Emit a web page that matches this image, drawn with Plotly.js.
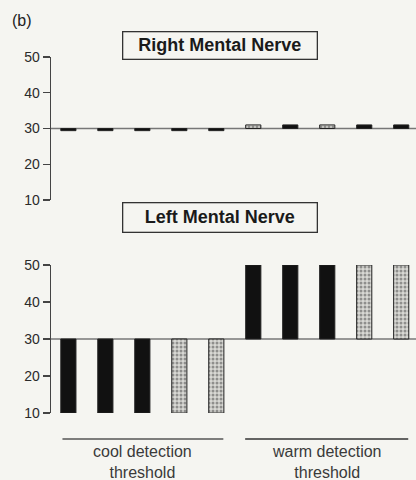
<!DOCTYPE html>
<html>
<head>
<meta charset="utf-8">
<script src="https://cdn.plot.ly/plotly-3.0.1.min.js"></script>
<style>
html,body{margin:0;padding:0;background:#f5f5f1;}
#chart{width:416px;height:480px;}
</style>
</head>
<body>
<div id="chart"></div>
<script>
// ---- data ----
const groups = ['cool detection<br>threshold', 'warm detection<br>threshold'];
const groupCenters = [2, 7];
const baseline = 30;
const yTicks = [10, 20, 30, 40, 50];
const panelTitles = ['Right Mental Nerve', 'Left Mental Nerve'];
const rightCool = [29.4, 29.4, 29.4, 29.4, 29.4];
const rightWarm = [31, 31, 31, 31, 31];
const rightFill = ['solid','solid','solid','solid','solid','dotted','solid','dotted','solid','solid'];
const leftCool = [10, 10, 10, 10, 10];
const leftWarm = [50, 50, 50, 50, 50];
const leftFill = ['solid','solid','solid','dotted','dotted','solid','solid','solid','dotted','dotted'];

// ---- build ----
const FONT = 'Liberation Sans, Arial, Helvetica, sans-serif';
function barTrace(values, fills, xa, ya) {
  return {
    type: 'bar',
    x: values.map((v, i) => i),
    base: values.map(() => baseline),
    y: values.map(v => v - baseline),
    width: 0.41,
    xaxis: xa, yaxis: ya,
    marker: {
      color: fills.map(f => f === 'solid' ? '#111111' : '#d8d8d4'),
      line: {color: '#222', width: 1},
      pattern: {
        shape: fills.map(f => f === 'solid' ? '' : '.'),
        fgcolor: '#3a3a3a',
        size: 4,
        solidity: 0.45,
        fillmode: 'overlay'
      }
    },
    hoverinfo: 'skip',
    showlegend: false,
    cliponaxis: false
  };
}

const rightVals = rightCool.concat(rightWarm);
const leftVals = leftCool.concat(leftWarm);

const data = [
  barTrace(rightVals, rightFill, 'x', 'y'),
  barTrace(leftVals, leftFill, 'x2', 'y2')
];

const W = 416, H = 480;
const xRange = [-0.47, 9.4];
const xDom = [51 / W, 1];
const yaxisCommon = {
  range: [10, 50],
  tickvals: yTicks,
  ticks: 'outside',
  ticklen: 7,
  tickwidth: 1.3,
  tickcolor: '#444',
  showline: true,
  linecolor: '#444',
  linewidth: 1.3,
  showgrid: false,
  zeroline: false,
  tickfont: {family: FONT, size: 14, color: '#2a2a2a'},
  fixedrange: true
};
const xaxisCommon = {range: xRange, domain: xDom, visible: false, fixedrange: true};

const annotations = [
  {text: '(b)', xref: 'paper', yref: 'paper', x: 10 / W, y: 1 - 21 / H, xanchor: 'left', yanchor: 'middle',
   showarrow: false, font: {family: FONT, size: 16, color: '#222'}},
  {text: '<b>' + panelTitles[0] + '</b>', xref: 'paper', yref: 'paper', x: 220 / W, y: 1 - 45 / H,
   xanchor: 'center', yanchor: 'middle', showarrow: false, width: 191, height: 24,
   bordercolor: '#333', borderwidth: 1.3, borderpad: 1, bgcolor: '#f5f5f1',
   font: {family: FONT, size: 18, color: '#1a1a1a'}},
  {text: '<b>' + panelTitles[1] + '</b>', xref: 'paper', yref: 'paper', x: 220 / W, y: 1 - 218 / H,
   xanchor: 'center', yanchor: 'middle', showarrow: false, width: 191, height: 26,
   bordercolor: '#333', borderwidth: 1.3, borderpad: 1, bgcolor: '#f5f5f1',
   font: {family: FONT, size: 18, color: '#1a1a1a'}}
];
groups.forEach((t, g) => {
  annotations.push({text: t, xref: 'x2', yref: 'paper', x: groupCenters[g], y: 1 - 441 / H,
    xanchor: 'center', yanchor: 'top', showarrow: false,
    font: {family: FONT, size: 16, color: '#3a3a3a'}});
});

const layout = {
  width: W, height: H,
  margin: {l: 0, r: 0, t: 0, b: 0},
  paper_bgcolor: '#f5f5f1',
  plot_bgcolor: 'rgba(0,0,0,0)',
  bargap: 0,
  xaxis: Object.assign({anchor: 'y'}, xaxisCommon),
  xaxis2: Object.assign({anchor: 'y2'}, xaxisCommon),
  yaxis: Object.assign({domain: [1 - 200 / H, 1 - 57 / H], anchor: 'x'}, yaxisCommon),
  yaxis2: Object.assign({domain: [1 - 413 / H, 1 - 265 / H], anchor: 'x2'}, yaxisCommon),
  shapes: [
    {type: 'line', xref: 'x', yref: 'y', x0: xRange[0], x1: xRange[1], y0: baseline, y1: baseline,
     line: {color: '#777', width: 1.5}, layer: 'below'},
    {type: 'line', xref: 'x2', yref: 'y2', x0: xRange[0], x1: xRange[1], y0: baseline, y1: baseline,
     line: {color: '#777', width: 1.5}, layer: 'below'},
    {type: 'line', xref: 'x2', yref: 'paper', x0: -0.16, x1: 4.19, y0: 1 - 439 / H, y1: 1 - 439 / H,
     line: {color: '#555', width: 1.3}},
    {type: 'line', xref: 'x2', yref: 'paper', x0: 4.78, x1: 9.19, y0: 1 - 439 / H, y1: 1 - 439 / H,
     line: {color: '#333', width: 1.3}}
  ],
  annotations: annotations
};

Plotly.newPlot('chart', data, layout, {staticPlot: true, displayModeBar: false});
</script>
</body>
</html>
